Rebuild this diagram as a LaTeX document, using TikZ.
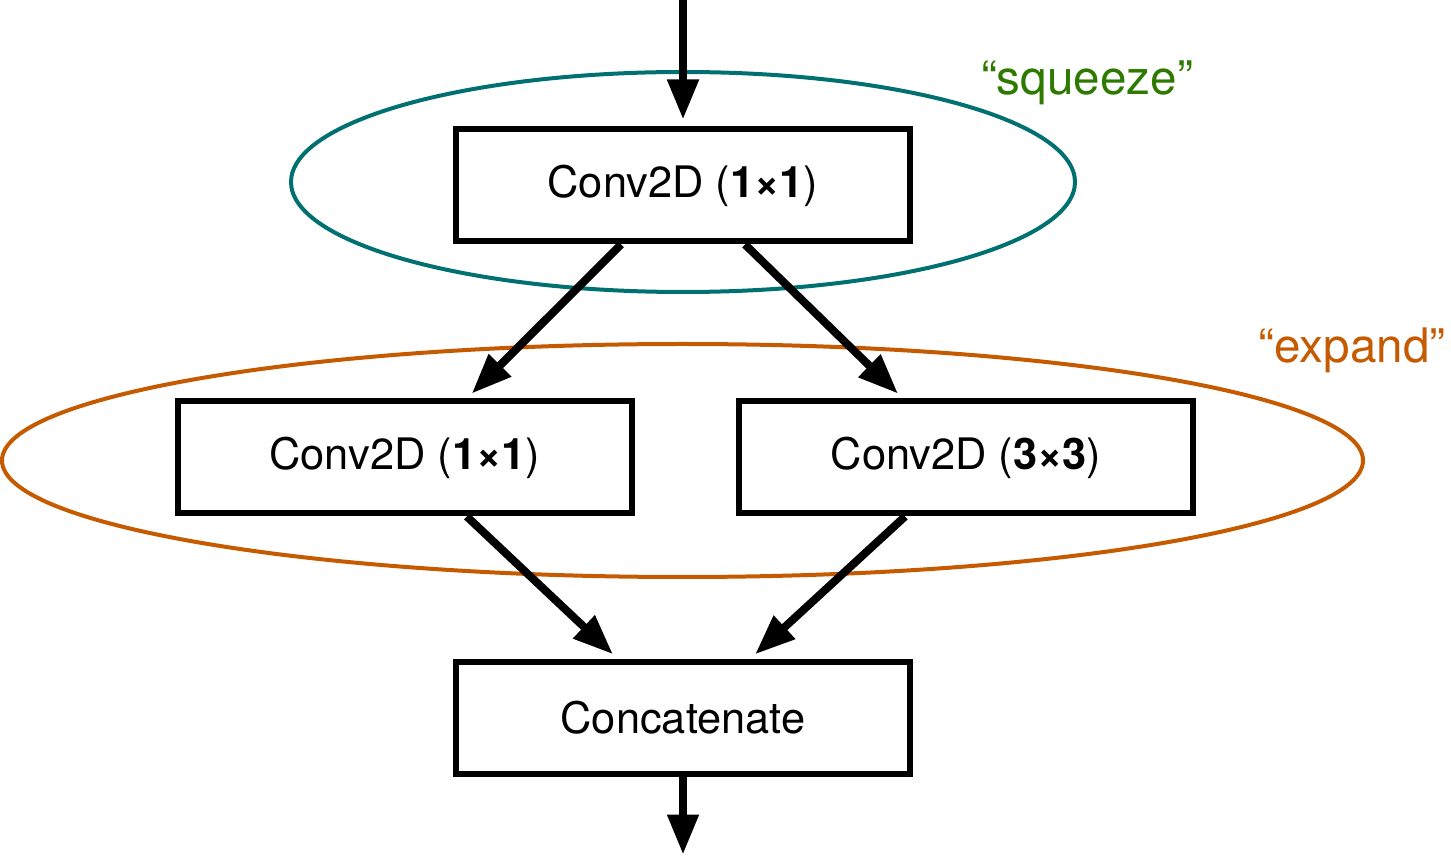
\documentclass[tikz,border=0pt]{standalone}
\usepackage{fontspec}
\setmainfont{TeX Gyre Heros}
\usetikzlibrary{arrows.meta}
\definecolor{sqzline}{RGB}{0,112,112}
\definecolor{sqztext}{RGB}{46,122,0}
\definecolor{expcol}{RGB}{197,90,0}
\tikzset{
  layerbox/.style={draw=black, line width=3pt, fill=white, minimum width=227pt, minimum height=56pt, inner sep=0pt, font=\fontsize{21.7pt}{24pt}\selectfont},
  flow/.style={line width=4pt, -{Triangle[length=20pt,width=15pt]}, shorten >=3.5pt},
  grouplabel/.style={anchor=base, font=\fontsize{23.8pt}{26pt}\selectfont},
}
\begin{document}
\begin{tikzpicture}[x=0.5pt, y=-0.5pt]
\useasboundingbox (0,0) rectangle (1451,860);
% groups
\draw[sqzline, line width=2pt] (683,182) ellipse [x radius=196pt, y radius=55pt];
\draw[expcol, line width=2pt] (682.5,460.5) ellipse [x radius=340.25pt, y radius=58.25pt];
\node[grouplabel, text=sqztext] (lsq) at (1087,95) {“squeeze”};
\node[grouplabel, text=expcol] (lex) at (1352,363) {“expand”};
% boxes
\node[layerbox] (b1) at (683,185.5) {Conv2D (\textbf{1×1})};
\node[layerbox] (b2) at (404.8,457.5) {Conv2D (\textbf{1×1})};
\node[layerbox] (b3) at (966,457.5) {Conv2D (\textbf{3×3})};
\node[layerbox] (b4) at (683,718) {Concatenate};
\coordinate (in) at (683,0);
\coordinate (out) at (683,861.5);
% connectors
\draw[flow] (in) -- (b1.north);
\draw[flow] ([xshift=-31pt]b1.south) -- ([xshift=31pt]b2.north);
\draw[flow] ([xshift=31pt]b1.south) -- ([xshift=-31.5pt]b3.north);
\draw[flow] ([xshift=31pt]b2.south) -- ([xshift=-32.5pt]b4.north);
\draw[flow] ([xshift=-30.5pt]b3.south) -- ([xshift=33.5pt]b4.north);
\draw[flow] (b4.south) -- (out);
\end{tikzpicture}
\end{document}
